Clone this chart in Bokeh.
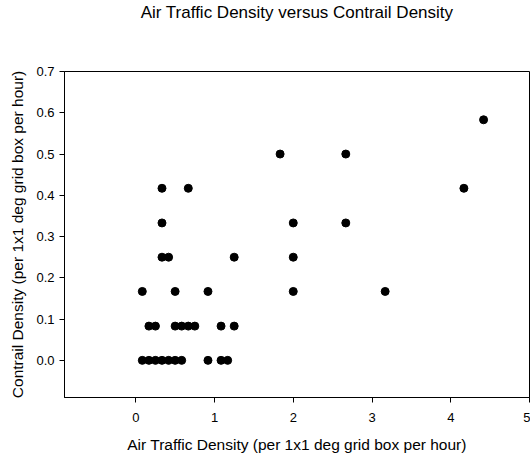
from bokeh.plotting import figure
from bokeh.models import Range1d, FixedTicker, NumeralTickFormatter, Title
from bokeh.embed import file_html
from bokeh.resources import INLINE

# Air traffic density (x) and contrail density (y)
air_traffic = [0.083, 0.167, 0.25, 0.333, 0.417, 0.5, 0.583, 0.917, 1.083, 1.167,
               0.167, 0.25, 0.5, 0.583, 0.667, 0.75, 1.083, 1.25,
               0.083, 0.5, 0.917, 2.0, 3.167,
               0.333, 0.417, 1.25, 2.0,
               0.333, 2.0, 2.667,
               0.333, 0.667, 4.167,
               1.833, 2.667,
               4.417]
contrail = [0.0] * 10 + [0.083] * 8 + [0.167] * 5 + [0.25] * 4 + [0.333] * 3 + [0.417] * 3 + [0.5] * 2 + [0.583]

x_ticks = [0, 1, 2, 3, 4, 5]
y_ticks = [0.0, 0.1, 0.2, 0.3, 0.4, 0.5, 0.6, 0.7]

TITLE = "Air Traffic Density versus Contrail Density"

FONT = "Liberation Sans"

p = figure(width=530, height=455, output_backend="svg", toolbar_location=None,
           x_range=Range1d(-0.905, 5.0), y_range=Range1d(-0.09, 0.7),
           min_border_left=64, min_border_right=1, min_border_top=0, min_border_bottom=56)

# spacer row next to the frame, then the real title further out
p.add_layout(Title(text=" ", text_font_size="43.5px", standoff=0), "above")
p.add_layout(Title(text=TITLE, align="center", text_font=FONT, text_font_size="17px",
                   text_font_style="normal", text_color="black", standoff=0), "above")

p.outline_line_color = "black"
p.outline_line_alpha = 1.0
p.outline_line_width = 1
p.xgrid.visible = False
p.ygrid.visible = False
p.background_fill_color = "white"
p.border_fill_color = "white"

p.xaxis.ticker = FixedTicker(ticks=x_ticks)
p.yaxis.ticker = FixedTicker(ticks=y_ticks)
p.yaxis.formatter = NumeralTickFormatter(format="0.0")

p.xaxis.axis_label = "Air Traffic Density (per 1x1 deg grid box per hour)"
p.yaxis.axis_label = "Contrail Density (per 1x1 deg grid box per hour)"

for ax in (p.xaxis[0], p.yaxis[0]):
    ax.axis_line_color = "black"
    ax.major_tick_line_color = "black"
    ax.major_tick_out = 5
    ax.major_tick_in = 0
    ax.minor_tick_line_color = None
    ax.major_label_text_font = FONT
    ax.major_label_text_font_size = "13px"
    ax.major_label_text_color = "black"
    ax.axis_label_text_font = FONT
    ax.axis_label_text_font_size = "15.5px"
    ax.axis_label_text_font_style = "normal"
    ax.axis_label_text_color = "black"

p.xaxis.major_label_standoff = 10
p.xaxis.axis_label_standoff = 11
p.yaxis.major_label_standoff = 5
p.yaxis.axis_label_standoff = 7

p.scatter(air_traffic, contrail, size=8, marker="circle", fill_color="black", line_color="black")

open("out.html", "w").write(file_html(p, INLINE))
